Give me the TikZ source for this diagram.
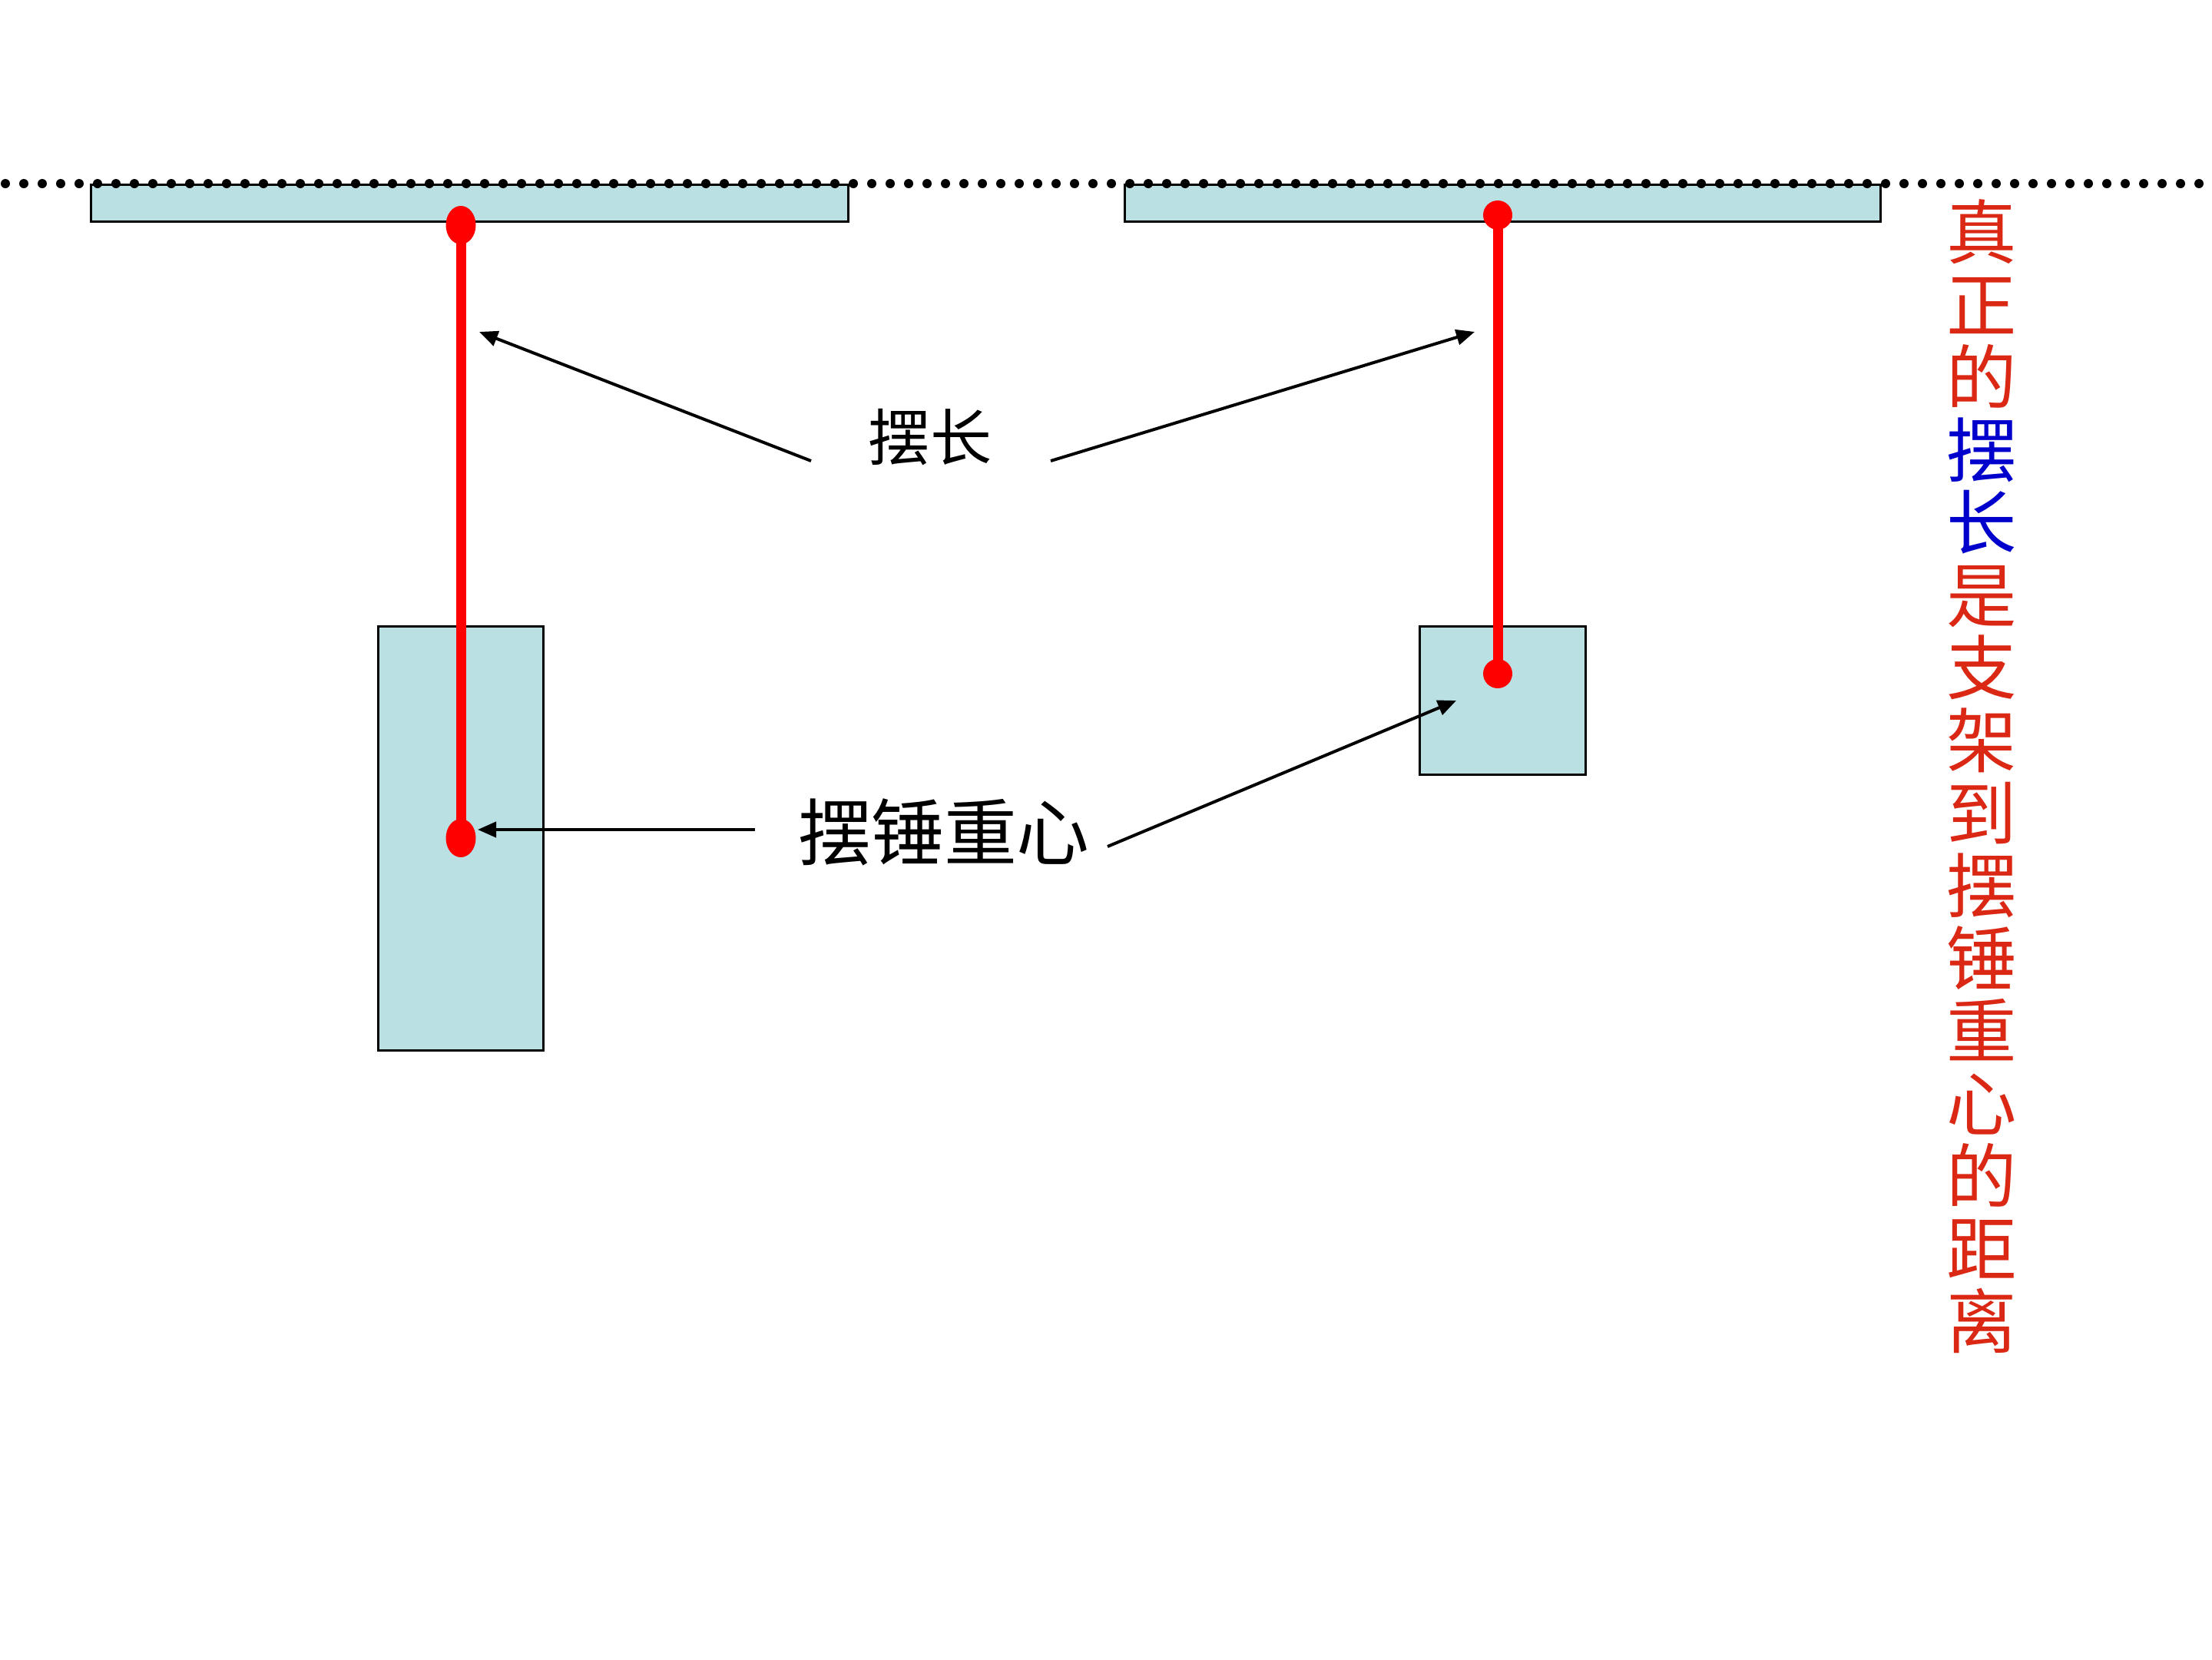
\documentclass[tikz,border=0pt]{standalone}
\usepackage{fontspec}
\setmainfont{Noto Sans CJK SC}
\usepackage{tikz}
\usetikzlibrary{arrows.meta}
\usetikzlibrary{shapes.geometric, positioning}
\definecolor{bobblue}{RGB}{187,224,227}
\definecolor{notered}{RGB}{218,40,20}
\definecolor{lenblue}{RGB}{0,0,204}
\tikzset{
    barbox/.style={
        rectangle,
        draw=black,
        line width=0.3mm,
        fill=bobblue,
        inner sep=0pt,
        outer sep=0pt
    },
    hookdot/.style={ellipse, fill=red, inner sep=0pt, minimum width=3.9mm, minimum height=5mm},
    cgdot/.style={circle, fill=red, inner sep=0pt, minimum size=3.8mm},
    rod/.style={draw=red, line width=1.3mm, shorten <=-1mm, shorten >=-1mm},
    ceiling/.style={line width=1.2mm, dash pattern=on 0pt off 2.4mm, line cap=round},
    pointer/.style={
        ->,
        >={Triangle[length=2.4mm, width=2mm]},
        line width=0.4mm,
        draw=black
    }
}

\begin{document}
\begin{tikzpicture}[x=1mm, y=-1mm]
        \useasboundingbox (0,0) rectangle (288,216);

        % Supports
        \node (bar1) [barbox, minimum width=98.5mm, minimum height=4.8mm] at (61.15,26.4) {};
        \node (bar2) [barbox, minimum width=98.4mm, minimum height=4.8mm] at (195.6,26.4) {};

        % Bobs
        \node (bob1) [barbox, minimum width=21.5mm, minimum height=55.2mm] at (59.95,109.1) {};
        \node (bob2) [barbox, minimum width=21.6mm, minimum height=19.3mm] at (195.6,91.15) {};

        % Ceiling line
        \coordinate (ceilL) at (0.7,23.9);
        \coordinate (ceilR) at (288,23.9);
        \draw [ceiling] (ceilL) -- (ceilR);

        % Hanging points and centres of mass
        \node (top1) [hookdot] at (60,29.3) {};
        \node (cg1) [hookdot] at (60,109.1) {};
        \node (top2) [cgdot] at (195,28) {};
        \node (cg2) [cgdot] at (195,87.7) {};

        % Strings
        \draw [rod] (top1) -- (cg1);
        \draw [rod] (top2) -- (cg2);

        % Labels
        \node (lenlabel) [font=\fontsize{22.8pt}{24pt}\selectfont, inner sep=0pt] at (121.1,56.9) {摆长};
        \node (cglabel) [font=\fontsize{27pt}{28pt}\selectfont, inner sep=0pt] at (122.9,108.3) {摆锤重心};

        % Note on the right
        \node (note) [anchor=north, align=center, inner sep=0pt, text=notered,
            font=\fontsize{26pt}{26.9pt}\selectfont] at (258,25.9)
            {真\\正\\的\\\textcolor{lenblue}{摆}\\\textcolor{lenblue}{长}\\是\\支\\架\\到\\摆\\锤\\重\\心\\的\\距\\离};

        % Arrow ends
        \coordinate (lenL_from) at (105.6,60);
        \coordinate (lenL_to) at (62.4,43.2);
        \coordinate (lenR_from) at (136.8,60);
        \coordinate (lenR_to) at (192,43.2);
        \coordinate (cgL_from) at (98.3,108);
        \coordinate (cgL_to) at (62.2,108);
        \coordinate (cgR_from) at (144.2,110.2);
        \coordinate (cgR_to) at (189.6,91.2);

        % Arrows
        \draw [pointer] (lenL_from) -- (lenL_to);
        \draw [pointer] (lenR_from) -- (lenR_to);
        \draw [pointer] (cgL_from) -- (cgL_to);
        \draw [pointer] (cgR_from) -- (cgR_to);

\end{tikzpicture}
\end{document}
